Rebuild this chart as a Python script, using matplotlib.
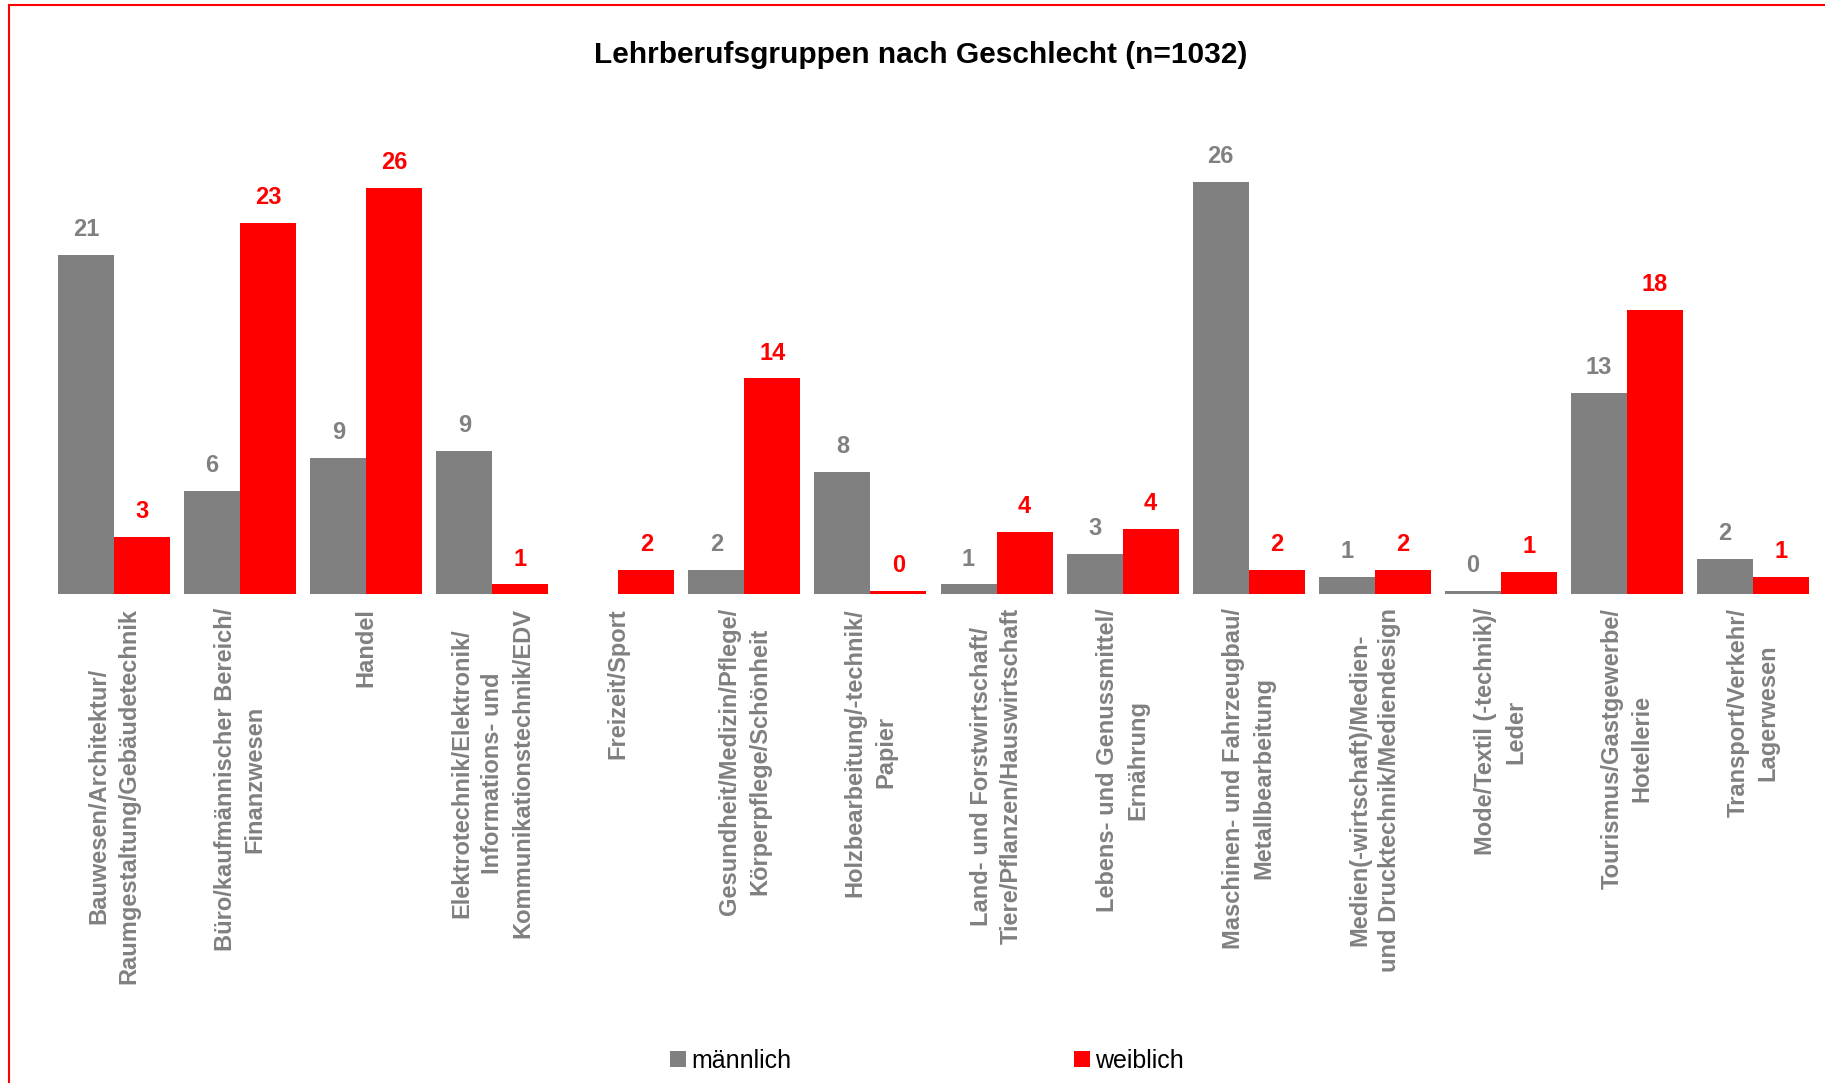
import matplotlib
matplotlib.use("Agg")
import matplotlib.pyplot as plt
import numpy as np
from matplotlib.patches import Rectangle

plt.rcParams['font.family'] = ['Liberation Sans', 'DejaVu Sans']

categories = [
    "Bauwesen/Architektur/\nRaumgestaltung/Gebäudetechnik",
    "Büro/kaufmännischer Bereich/\nFinanzwesen",
    "Handel",
    "Elektrotechnik/Elektronik/\nInformations- und\nKommunikationstechnik/EDV",
    "Freizeit/Sport",
    "Gesundheit/Medizin/Pflege/\nKörperpflege/Schönheit",
    "Holzbearbeitung/-technik/\nPapier",
    "Land- und Forstwirtschaft/\nTiere/Pflanzen/Hauswirtschaft",
    "Lebens- und Genussmittel/\nErnährung",
    "Maschinen- und Fahrzeugbau/\nMetallbearbeitung",
    "Medien(-wirtschaft)/Medien-\nund Drucktechnik/Mediendesign",
    "Mode/Textil (-technik)/\nLeder",
    "Tourismus/Gastgewerbe/\nHotellerie",
    "Transport/Verkehr/\nLagerwesen",
]
maennlich = [21.4, 6.5, 8.6, 9.0, 0.0, 1.5, 7.7, 0.6, 2.5, 26.0, 1.1, 0.2, 12.7, 2.2]
weiblich = [3.6, 23.4, 25.6, 0.6, 1.5, 13.6, 0.2, 3.9, 4.1, 1.5, 1.5, 1.4, 17.9, 1.1]
labels_m = ["21", "6", "9", "9", "", "2", "8", "1", "3", "26", "1", "0", "13", "2"]
labels_w = ["3", "23", "26", "1", "2", "14", "0", "4", "4", "2", "2", "1", "18", "1"]
series_names = ["männlich", "weiblich"]
title = "Lehrberufsgruppen nach Geschlecht (n=1032)"

GRAY = "#808080"
RED = "#FF0000"

W, H = 1825, 1083
fig = plt.figure(figsize=(W / 100, H / 100), dpi=100)
ax = fig.add_axes([51 / W, 1 - 594 / H, (1816 - 51) / W, 28 * 15.85 / H])

x = np.arange(len(categories))
bw = 0.444
b1 = ax.bar(x - bw / 2, maennlich, bw, color=GRAY, label=series_names[0])
b2 = ax.bar(x + bw / 2, weiblich, bw, color=RED, label=series_names[1])
ax.bar_label(b1, labels=labels_m, padding=10, color=GRAY, fontsize=17, fontweight='bold')
ax.bar_label(b2, labels=labels_w, padding=10, color=RED, fontsize=17, fontweight='bold')

ax.set_xlim(-0.5, len(categories) - 0.5)
ax.set_ylim(0, 28)
ax.set_yticks([])
ax.set_xticks(x)
ax.set_xticklabels(categories, rotation=90, fontsize=17, fontweight='bold',
                   color=GRAY, multialignment='center', va='top', ha='center',
                   linespacing=1.4)
ax.tick_params(axis='x', length=0, pad=10)
for s in ax.spines.values():
    s.set_visible(False)

fig.text(921 / W, 1 - 55 / H, title, ha='center', va='center',
         fontsize=21.5, fontweight='bold', color='black')

leg = fig.legend(handles=[b1, b2], labels=series_names, loc='center',
                 bbox_to_anchor=(927 / W, 1 - 1061 / H), ncol=2, frameon=False,
                 fontsize=18, handlelength=0.64, handleheight=0.64,
                 handletextpad=0.22, columnspacing=11.3, borderaxespad=0)

# chart border (top and left visible, as in the reference)
fig.add_artist(Rectangle((9, -30), W + 30, H - 5 + 30, transform=None, fill=False,
                         edgecolor=RED, linewidth=1.5))

fig.savefig("out.png", dpi=100)
